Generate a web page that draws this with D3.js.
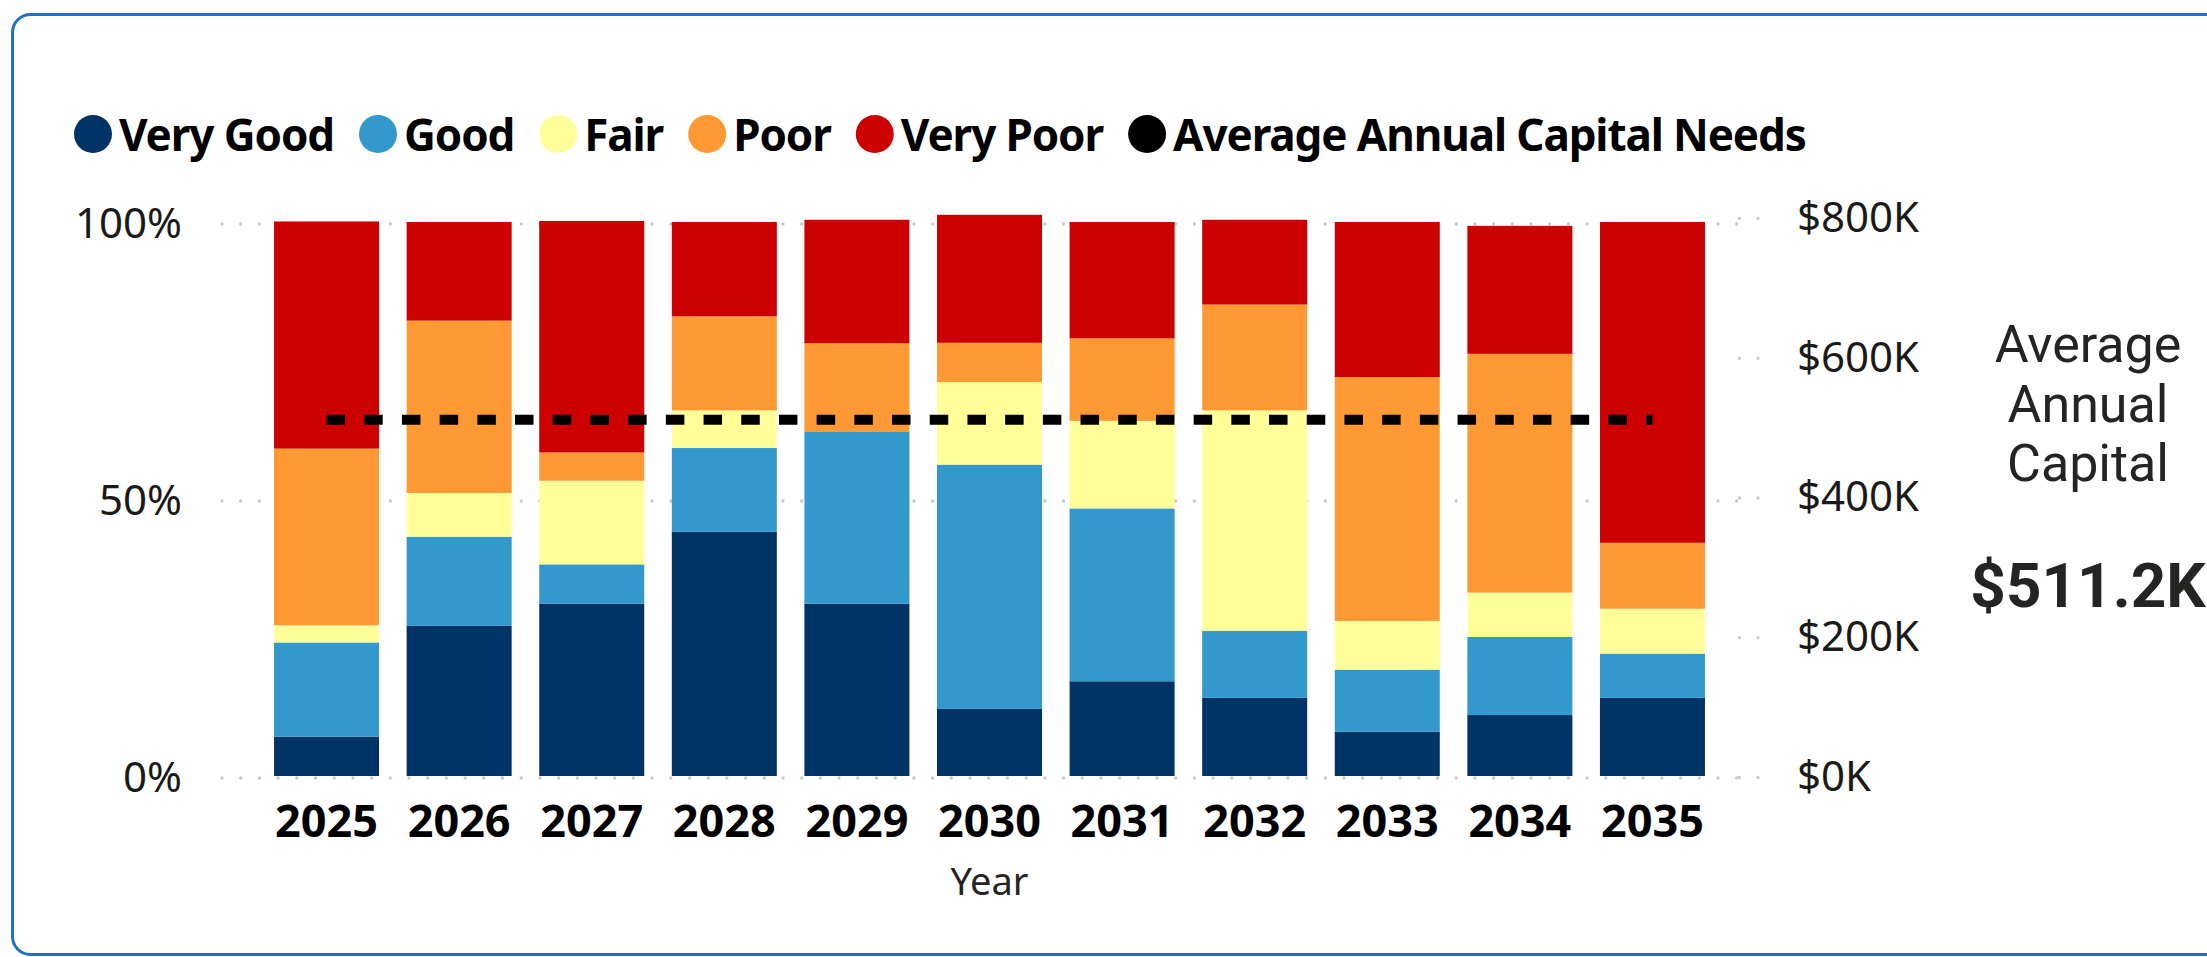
<!DOCTYPE html>
<html>
<head>
<meta charset="utf-8">
<script src="https://cdn.jsdelivr.net/npm/d3@7"></script>
<style>
    body { margin: 0; background: #fff; }
    svg { display: block; }
    .grid line { stroke: #c8c8c8; stroke-width: 3.3; stroke-linecap: round; stroke-dasharray: 0 18.7; }
</style>
</head>
<body>
<div id="chart-area"></div>
<script>
//____________________________DATA________________________//
const years = ['2025', '2026', '2027', '2028', '2029', '2030', '2031', '2032', '2033', '2034', '2035']

// share of each condition per year (%)
const veryGood = [7.1, 27.1, 31.1, 44.1, 31.1, 12.1, 17.1, 14.1, 8.0, 11.0, 14.1]
const good     = [17.0, 16.1, 7.1, 15.1, 31.0, 44.1, 31.2, 12.1, 11.2, 14.1, 8.0]
const fair     = [3.1, 7.9, 15.1, 6.8, 0.0, 14.9, 15.8, 39.8, 8.8, 8.0, 8.1]
const poor     = [31.9, 31.1, 5.1, 17.0, 16.0, 7.1, 14.9, 19.1, 44.0, 43.1, 11.9]
const veryPoor = [41.0, 17.8, 41.8, 17.0, 22.3, 23.1, 21.0, 15.3, 28.0, 23.1, 57.9]

const avgNeeds = 511.2   // $K, average annual capital needs

const conditions = ['Very Good', 'Good', 'Fair', 'Poor', 'Very Poor']
const condColors = ['#003366', '#3399cc', '#ffff99', '#ff9933', '#cc0000']
const legendLabels = ['Very Good', 'Good', 'Fair', 'Poor', 'Very Poor', 'Average Annual Capital Needs']
const legendColors = [...condColors, '#000000']

const pctTicks = [0, 50, 100]
const dollarTicks = [0, 200, 400, 600, 800]

const rows = years.map((y, i) => ({
    year: y,
    'Very Good': veryGood[i],
    'Good': good[i],
    'Fair': fair[i],
    'Poor': poor[i],
    'Very Poor': veryPoor[i],
    avg: avgNeeds
}))

//____________________________SVG________________________//
const W = 2207, H = 957
const svg = d3.select('#chart-area').append('svg')
    .attr('width', W)
    .attr('height', H)

// card border
svg.append('rect')
    .attr('x', 12.5)
    .attr('y', 14.5)
    .attr('width', 2400)
    .attr('height', 940)
    .attr('rx', 18)
    .attr('fill', 'none')
    .attr('stroke', '#2170c4')
    .attr('stroke-width', 3)

//____________________________SCALES________________________//
const x = d3.scaleBand()
    .domain(years)
    .range([221, 1758])
    .paddingInner(0.208)
    .paddingOuter(0.4)

const y = d3.scaleLinear()
    .domain([0, 100])
    .range([776, 222])

const yR = d3.scaleLinear()
    .domain([0, 800])
    .range([777, 218])

//____________________________GRID + AXES________________________//
const gridG = svg.append('g').attr('class', 'grid')

gridG.selectAll('line')
    .data(pctTicks)
    .join('line')
    .attr('x1', x.range()[0] + 1)
    .attr('x2', 1750)
    .attr('y1', d => y(d) + 2)
    .attr('y2', d => y(d) + 2)

const leftAxis = svg.append('g')
    .attr('transform', `translate(182,2)`)
    .call(d3.axisLeft(y).tickValues(pctTicks).tickFormat(d => d + '%').tickSize(0).tickPadding(0))

leftAxis.select('.domain').remove()
leftAxis.selectAll('text')
    .attr('font-family', '"Noto Sans", sans-serif')
    .attr('font-size', 42)
    .attr('fill', '#1a1a1a')

const rightAxis = svg.append('g')
    .attr('class', 'grid')
    .attr('transform', `translate(1758,0)`)
    .call(d3.axisRight(yR).tickValues(dollarTicks).tickFormat(d => `$${d}K`).tickSize(-22).tickPadding(39))

rightAxis.select('.domain').remove()
rightAxis.selectAll('text')
    .attr('font-family', '"Noto Sans", sans-serif')
    .attr('font-size', 42)
    .attr('fill', '#1a1a1a')

//____________________________STACKED BARS________________________//
const stack = d3.stack().keys(conditions)
const series = stack(rows)
const color = d3.scaleOrdinal(conditions, condColors)

svg.append('g')
    .attr('class', 'bars')
    .selectAll('g')
    .data(series)
    .join('g')
    .attr('fill', d => color(d.key))
    .selectAll('rect')
    .data(d => d)
    .join('rect')
    .attr('x', d => x(d.data.year))
    .attr('width', x.bandwidth())
    .attr('y', d => y(d[1]))
    .attr('height', d => y(d[0]) - y(d[1]))

//____________________________AVERAGE LINE________________________//
const avgLine = d3.line()
    .x(d => x(d.year) + x.bandwidth() / 2)
    .y(d => yR(d.avg))

svg.append('path')
    .datum(rows)
    .attr('d', avgLine)
    .attr('fill', 'none')
    .attr('stroke', '#000')
    .attr('stroke-width', 10)
    .attr('stroke-dasharray', '18.5 19.2')

//____________________________X AXIS________________________//
const bottomAxis = svg.append('g')
    .attr('transform', `translate(0,800)`)
    .call(d3.axisBottom(x).tickSize(0).tickPadding(0))

bottomAxis.select('.domain').remove()
bottomAxis.selectAll('text')
    .attr('dy', 0)
    .attr('y', 36.7)
    .attr('font-family', '"Noto Sans", sans-serif')
    .attr('font-weight', 700)
    .attr('font-size', 45)
    .attr('fill', '#000')

svg.append('text')
    .attr('x', (x.range()[0] + x.range()[1]) / 2)
    .attr('y', 895)
    .attr('text-anchor', 'middle')
    .attr('font-family', '"Noto Sans", sans-serif')
    .attr('font-size', 38)
    .attr('fill', '#252423')
    .text('Year')

//____________________________LEGEND________________________//
const legend = svg.append('g').attr('class', 'legend')
let cursor = 74
legendLabels.forEach((label, i) => {
    const r = 19
    legend.append('circle')
        .attr('cx', cursor + r)
        .attr('cy', 134)
        .attr('r', r)
        .attr('fill', legendColors[i])
    const t = legend.append('text')
        .attr('x', cursor + 2 * r + 7)
        .attr('y', 150.8)
        .attr('font-family', '"Noto Sans", sans-serif')
        .attr('font-weight', 700)
        .attr('font-size', 44)
        .attr('letter-spacing', -1.1)
        .attr('fill', '#000')
        .text(label)
    cursor = cursor + 2 * r + 7 + t.node().getComputedTextLength() + 25
})

//____________________________CARD TEXT________________________//
const card = svg.append('g')
    .attr('font-family', 'Roboto, sans-serif')
    .attr('text-anchor', 'middle')
    .attr('fill', '#252423')

const cardLines = ['Average', 'Annual', 'Capital']
card.selectAll('text.label')
    .data(cardLines)
    .join('text')
    .attr('class', 'label')
    .attr('x', 2088)
    .attr('y', (d, i) => 362 + i * 59.5)
    .attr('font-size', 52)
    .text(d => d)

card.append('text')
    .attr('x', 2088)
    .attr('y', 607)
    .attr('font-size', 62)
    .attr('font-weight', 700)
    .text(`$${avgNeeds}K`)
</script>
</body>
</html>
